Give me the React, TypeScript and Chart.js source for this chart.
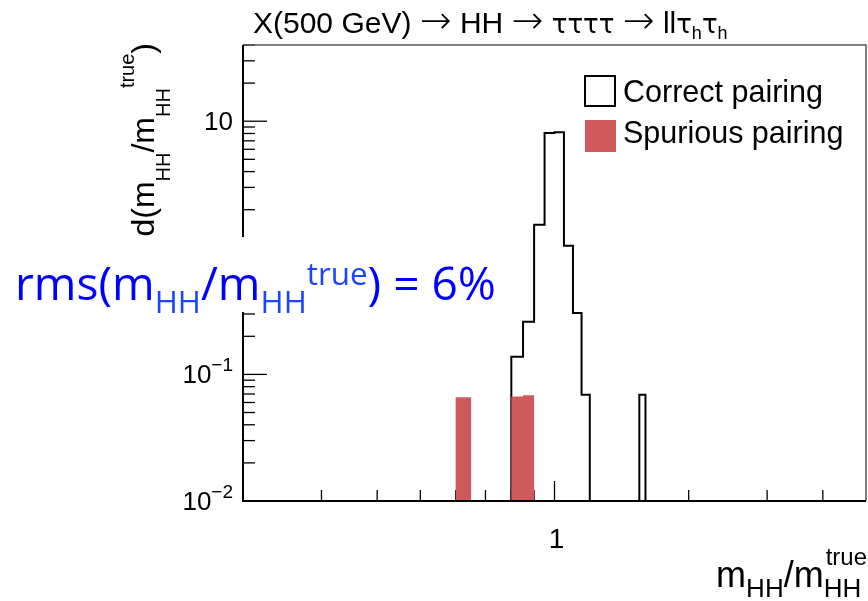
import React, { useEffect, useRef } from 'react';
import { Chart, registerables } from 'chart.js';

Chart.register(...registerables);

// ---- data ----
const binWidth = 0.05;
const correctBinLow = [0.8, 0.85, 0.9, 0.95, 1.0, 1.05, 1.1, 1.15, 1.55];
const correctValues = [0.138, 0.261, 1.52, 8.07, 8.17, 1.04, 0.305, 0.069, 0.069];
const spuriousBinLow = [0.6, 0.8, 0.85];
const spuriousValues = [0.066, 0.0668, 0.0685];
const xMin = 0.2;
const xMax = 5;
const yMin = 0.01;
const yMax = 40;
const xMajorTicks = [1];
const xMinorTicks = [0.3, 0.4, 0.5, 0.6, 0.7, 0.8, 0.9, 2, 3, 4];
const xTickLabels = ['1'];
const yMajorTicks = [0.01, 0.1, 1, 10];
const yTickBase = ['10', '10', '1', '10'];
const yTickExp = ['\u22122', '\u22121', '', ''];
const legendLabels = ['Correct pairing', 'Spurious pairing'];

const SPURIOUS_COLOR = '#cf5a5e';
const ROOT_FONT = '"Liberation Sans", Arial, sans-serif';
const SYM_FONT = '"DejaVu Sans", sans-serif';

function stepPoints(lows: number[], vals: number[]) {
  const pts: { x: number; y: number }[] = [{ x: xMin, y: yMin }];
  lows.forEach((lo, i) => {
    const hi = lo + binWidth;
    pts.push({ x: lo, y: vals[i] });
    const nextLo = lows[i + 1];
    if (nextLo === undefined || Math.abs(nextLo - hi) > 1e-9) pts.push({ x: hi, y: yMin });
  });
  pts.push({ x: xMax, y: yMin });
  return pts;
}

type Seg = { t: string; s: number; dy?: number; color?: string; fam?: string; wt?: number };

function fontOf(sg: Seg, family: string) {
  return `${sg.wt ? sg.wt + ' ' : ''}${sg.s}px ${sg.fam || family}`;
}

function segWidth(ctx: CanvasRenderingContext2D, segs: Seg[], family: string) {
  let w = 0;
  for (const sg of segs) {
    ctx.font = fontOf(sg, family);
    w += ctx.measureText(sg.t).width;
  }
  return w;
}

function drawSegs(ctx: CanvasRenderingContext2D, segs: Seg[], family: string, color: string) {
  let cx = 0;
  for (const sg of segs) {
    ctx.font = fontOf(sg, family);
    ctx.fillStyle = sg.color || color;
    ctx.fillText(sg.t, cx, sg.dy || 0);
    cx += ctx.measureText(sg.t).width;
  }
}

const decor = {
  id: 'decor',
  beforeDatasetsDraw(chart: any) {
    const ctx: CanvasRenderingContext2D = chart.ctx;
    const xs = chart.scales.x;
    const ys = chart.scales.y;
    const { left, bottom } = chart.chartArea;
    ctx.save();
    ctx.strokeStyle = '#000';
    ctx.lineWidth = 1.3;
    for (const d of yMajorTicks) {
      for (let m = 1; m <= 9; m++) {
        const v = d * m;
        if (v > yMax * 1.0001) continue;
        const py = ys.getPixelForValue(v);
        const len = m === 1 ? 24 : 12;
        ctx.beginPath();
        ctx.moveTo(left, py);
        ctx.lineTo(left + len, py);
        ctx.stroke();
      }
    }
    for (const v of xMajorTicks) {
      const px = xs.getPixelForValue(v);
      ctx.beginPath();
      ctx.moveTo(px, bottom);
      ctx.lineTo(px, bottom - 20);
      ctx.stroke();
    }
    for (const v of xMinorTicks) {
      const px = xs.getPixelForValue(v);
      ctx.beginPath();
      ctx.moveTo(px, bottom);
      ctx.lineTo(px, bottom - 11);
      ctx.stroke();
    }
    ctx.restore();
  },
  afterDraw(chart: any) {
    const ctx: CanvasRenderingContext2D = chart.ctx;
    const xs = chart.scales.x;
    const ys = chart.scales.y;
    const { left, right, top, bottom } = chart.chartArea;
    ctx.save();
    ctx.textBaseline = 'alphabetic';
    ctx.textAlign = 'left';

    // frame
    ctx.strokeStyle = '#555';
    ctx.lineWidth = 1.5;
    ctx.beginPath();
    ctx.moveTo(left, top);
    ctx.lineTo(right, top);
    ctx.lineTo(right, bottom);
    ctx.stroke();
    ctx.strokeStyle = '#000';
    ctx.lineWidth = 2;
    ctx.beginPath();
    ctx.moveTo(left, top);
    ctx.lineTo(left, bottom);
    ctx.lineTo(right, bottom);
    ctx.stroke();

    // y tick labels
    yMajorTicks.forEach((v, i) => {
      const py = ys.getPixelForValue(v);
      const segs: Seg[] = [{ t: yTickBase[i], s: 26 }];
      if (yTickExp[i]) segs.push({ t: yTickExp[i], s: 19, dy: -12 });
      const w = segWidth(ctx, segs, ROOT_FONT);
      ctx.save();
      ctx.translate(233 - w, py + 9);
      drawSegs(ctx, segs, ROOT_FONT, '#000');
      ctx.restore();
    });

    // x tick labels
    xMajorTicks.forEach((v, i) => {
      const px = xs.getPixelForValue(v);
      const segs: Seg[] = [{ t: xTickLabels[i], s: 28 }];
      const w = segWidth(ctx, segs, ROOT_FONT);
      ctx.save();
      ctx.translate(px + 2 - w / 2, bottom + 47);
      drawSegs(ctx, segs, ROOT_FONT, '#000');
      ctx.restore();
    });

    // x axis title (right aligned to frame edge)
    {
      const mainS = 36;
      const subS = 26;
      const supS = 24;
      ctx.fillStyle = '#000';
      ctx.font = `${mainS}px ${ROOT_FONT}`;
      const wm = ctx.measureText('m').width;
      const wsm = ctx.measureText('/m').width;
      ctx.font = `${subS}px ${ROOT_FONT}`;
      const wh = ctx.measureText('HH').width;
      ctx.font = `${supS}px ${ROOT_FONT}`;
      const wt = ctx.measureText('true').width;
      const total = wm + wh + wsm + Math.max(wh, wt + 2);
      ctx.save();
      ctx.translate(right + 1 - total, 587);
      let cx = 0;
      ctx.font = `${mainS}px ${ROOT_FONT}`;
      ctx.fillText('m', cx, 0);
      cx += wm;
      ctx.font = `${subS}px ${ROOT_FONT}`;
      ctx.fillText('HH', cx, 10);
      cx += wh;
      ctx.font = `${mainS}px ${ROOT_FONT}`;
      ctx.fillText('/m', cx, 0);
      cx += wsm;
      ctx.font = `${subS}px ${ROOT_FONT}`;
      ctx.fillText('HH', cx, 10);
      ctx.font = `${supS}px ${ROOT_FONT}`;
      ctx.fillText('true', cx + 2, -22);
      ctx.restore();
    }

    // title
    {
      const arrow: Seg = { t: '\u2192', s: 38, fam: SYM_FONT, wt: 200 };
      const segs: Seg[] = [
        { t: 'X(500 GeV) ', s: 30 },
        arrow,
        { t: ' HH ', s: 30 },
        arrow,
        { t: ' ', s: 30 },
        { t: '\u03c4\u03c4\u03c4\u03c4', s: 26, fam: SYM_FONT },
        { t: ' ', s: 30 },
        arrow,
        { t: ' ll', s: 30 },
        { t: '\u03c4', s: 26, fam: SYM_FONT },
        { t: 'h', s: 18, dy: 6 },
        { t: '\u03c4', s: 26, fam: SYM_FONT },
        { t: 'h', s: 18, dy: 6 },
      ];
      ctx.save();
      ctx.translate(253, 33);
      drawSegs(ctx, segs, ROOT_FONT, '#000');
      ctx.restore();
    }

    // legend
    {
      ctx.fillStyle = '#fff';
      ctx.fillRect(585, 76, 30, 30);
      ctx.strokeStyle = '#000';
      ctx.lineWidth = 2;
      ctx.strokeRect(585, 76, 30, 30);
      ctx.fillStyle = SPURIOUS_COLOR;
      ctx.fillRect(585, 120, 31, 32);
      const base = [102, 143];
      legendLabels.forEach((lab, i) => {
        ctx.font = `30.5px ${ROOT_FONT}`;
        ctx.fillStyle = '#000';
        ctx.fillText(lab, 623, base[i]);
      });
    }

    // y axis title (rotated)
    {
      const segs: Seg[] = [
        { t: 'd(m', s: 32 },
        { t: 'HH', s: 20, dy: 16 },
        { t: '/m', s: 32 },
        { t: 'HH', s: 20, dy: 16 },
        { t: 'true', s: 20, dy: -20 },
        { t: ')', s: 32 },
      ];
      const w = segWidth(ctx, segs, ROOT_FONT);
      ctx.save();
      ctx.translate(154, 43);
      ctx.rotate(-Math.PI / 2);
      ctx.translate(-w, 0);
      drawSegs(ctx, segs, ROOT_FONT, '#000');
      ctx.restore();
    }

    // annotation box
    {
      ctx.fillStyle = '#fff';
      ctx.fillRect(0, 237, 505, 75);
      const fam = '"Open Sans", sans-serif';
      const blue = '#0000ff';
      const blue2 = '#1a44ff';
      const build = (m: number): Seg[] => {
        const sub = m * 0.68;
        return [
          { t: 'rms(m', s: m },
          { t: 'HH', s: sub, dy: m * 0.29, color: blue2 },
          { t: '/m', s: m },
          { t: 'HH', s: sub, dy: m * 0.29, color: blue2 },
          { t: 'true', s: sub, dy: -m * 0.33, color: blue2 },
          { t: ') = 6%', s: m },
        ];
      };
      let m = 44;
      const w0 = segWidth(ctx, build(m), fam);
      m = m * (481 / w0);
      ctx.save();
      ctx.translate(15, 300);
      drawSegs(ctx, build(m), fam, blue);
      ctx.restore();
    }
    ctx.restore();
  },
};

export default function App() {
  const ref = useRef<HTMLCanvasElement>(null);
  useEffect(() => {
    const canvas = ref.current!;
    const chart = new Chart(canvas, {
      type: 'line',
      data: {
        datasets: [
          {
            label: legendLabels[1],
            data: stepPoints(spuriousBinLow, spuriousValues),
            stepped: true,
            fill: 'start',
            backgroundColor: SPURIOUS_COLOR,
            borderColor: SPURIOUS_COLOR,
            borderWidth: 0,
            pointRadius: 0,
            order: 0,
          },
          {
            label: legendLabels[0],
            data: stepPoints(correctBinLow, correctValues),
            stepped: true,
            fill: false,
            borderColor: '#000',
            borderWidth: 2,
            pointRadius: 0,
            order: 1,
          },
        ],
      },
      options: {
        responsive: false,
        animation: false,
        devicePixelRatio: 1,
        layout: { padding: { left: 243, right: 2, top: 45, bottom: 100 } },
        scales: {
          x: { type: 'logarithmic', min: xMin, max: xMax, display: false },
          y: { type: 'logarithmic', min: yMin, max: yMax, display: false },
        },
        plugins: { legend: { display: false }, tooltip: { enabled: false } },
        elements: { line: { tension: 0 } },
      } as any,
      plugins: [decor],
    });
    return () => chart.destroy();
  }, []);
  return (
    <div style={{ position: 'absolute', left: 0, top: 0, width: 868, height: 601, background: '#fff' }}>
      <canvas ref={ref} width={868} height={601} style={{ display: 'block', width: 868, height: 601 }} />
    </div>
  );
}
